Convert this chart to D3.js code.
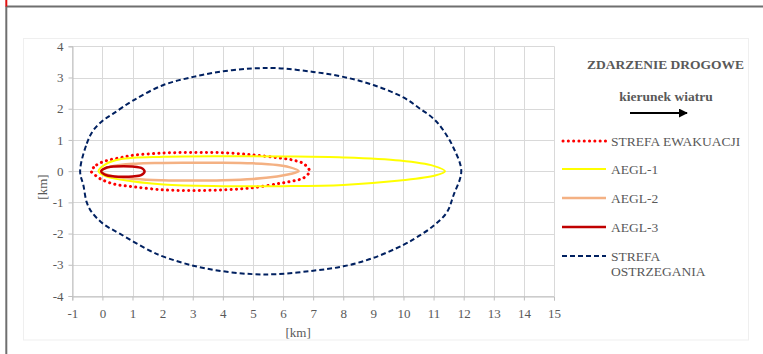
<!DOCTYPE html>
<html>
<head>
<meta charset="utf-8">
<script src="https://cdn.jsdelivr.net/npm/d3@7"></script>
<style>
  html, body { margin: 0; padding: 0; background: #ffffff; }
  svg { display: block; }
  text { font-family: "Liberation Serif", "Times New Roman", serif; fill: #595959; }
</style>
</head>
<body>
<svg id="chart" width="763" height="354"></svg>
<script>
// Axis ticks
const xTicks = [-1, 0, 1, 2, 3, 4, 5, 6, 7, 8, 9, 10, 11, 12, 13, 14, 15];
const yTicks = [-4, -3, -2, -1, 0, 1, 2, 3, 4];

// Zone contours (closed outlines, km east / km north of the incident)
const evacX = [-0.37, -0.19, 0.15, 0.59, 1.03, 2.03, 3.02, 4.02, 5.0, 5.9, 6.35, 6.68, 6.88,
               6.68, 6.4, 5.9, 5.0, 4.02, 3.02, 2.03, 1.03, 0.37, -0.08, -0.25];
const evacY = [0, 0.2, 0.34, 0.43, 0.51, 0.58, 0.6, 0.59, 0.52, 0.42, 0.35, 0.24, 0,
               -0.22, -0.3, -0.39, -0.53, -0.6, -0.62, -0.6, -0.5, -0.41, -0.24, -0.12];

const aegl1X = [-0.13, 0.1, 0.59, 2.03, 4.02, 6.0, 8.0, 9.88, 11.0, 11.38,
                11.05, 9.88, 8.0, 6.0, 4.02, 2.03, 0.59, 0.1];
const aegl1Y = [0, 0.22, 0.38, 0.46, 0.48, 0.47, 0.44, 0.34, 0.17, 0,
                -0.14, -0.3, -0.44, -0.48, -0.48, -0.43, -0.27, -0.16];

const aegl2X = [-0.05, 0.3, 1.1, 2.0, 3.0, 4.0, 5.0, 5.8, 6.2, 6.52,
                6.2, 5.8, 5.0, 4.0, 3.0, 2.0, 1.1, 0.3];
const aegl2Y = [0, 0.15, 0.24, 0.26, 0.27, 0.27, 0.25, 0.2, 0.13, 0,
                -0.1, -0.17, -0.25, -0.29, -0.3, -0.29, -0.25, -0.15];

const aegl3X = [-0.04, 0.1, 0.4, 0.7, 1.0, 1.3, 1.4, 1.3, 1.0, 0.7, 0.4, 0.1];
const aegl3Y = [0, 0.1, 0.15, 0.16, 0.15, 0.1, -0.01, -0.12, -0.17, -0.18, -0.17, -0.12];

const warnX = [-0.74, -0.52, -0.30, 0.03, 0.37, 1.03, 2.03, 3.02, 4.02, 5.0, 5.8, 7.0, 8.0, 9.0,
               10.0, 10.55, 11.0, 11.33, 11.66, 11.92,
               11.66, 11.44, 11.0, 10.44, 10.0, 9.0, 8.0, 7.0, 5.8, 5.0, 4.02, 3.02, 2.03, 1.58,
               0.59, 0.03, -0.35, -0.52, -0.63];
const warnY = [0, 0.88, 1.31, 1.63, 1.85, 2.27, 2.76, 3.02, 3.2, 3.29, 3.30, 3.18, 3.02, 2.76,
               2.36, 2.0, 1.68, 1.3, 0.75, 0,
               -0.78, -1.32, -1.75, -2.12, -2.36, -2.78, -3.05, -3.19, -3.30, -3.30, -3.21, -3.03, -2.74, -2.55,
               -2.01, -1.69, -1.32, -1.0, -0.46];

const series = [
  { name: "STREFA EWAKUACJI", xs: evacX, ys: evacY, color: "#ff0000", width: 3, dash: "0.1 5.2", cap: "round" },
  { name: "AEGL-1", xs: aegl1X, ys: aegl1Y, color: "#ffff00", width: 2, dash: null, cap: "butt" },
  { name: "AEGL-2", xs: aegl2X, ys: aegl2Y, color: "#f4b183", width: 2.5, dash: null, cap: "butt" },
  { name: "AEGL-3", xs: aegl3X, ys: aegl3Y, color: "#c00000", width: 2.5, dash: null, cap: "butt" },
  { name: ["STREFA", "OSTRZEGANIA"], xs: warnX, ys: warnY, color: "#002060", width: 2, dash: "5 3", cap: "butt" }
];

const FONT = '"Liberation Serif", "Times New Roman", serif';
const svg = d3.select("#chart");

// Page frame
svg.append("rect").attr("x", 0).attr("y", 0).attr("width", 763).attr("height", 354).attr("fill", "#ffffff");
svg.append("line").attr("x1", 6).attr("x2", 763).attr("y1", 6.5).attr("y2", 6.5)
  .attr("stroke", "#6f6f6f").attr("stroke-width", 2);
svg.append("line").attr("x1", 6.3).attr("x2", 6.3).attr("y1", 6).attr("y2", 354)
  .attr("stroke", "#6f6f6f").attr("stroke-width", 2);
svg.append("rect").attr("x", 5.3).attr("y", 0).attr("width", 2).attr("height", 6.5).attr("fill", "#e01010");

// Chart area border
svg.append("rect").attr("x", 23.5).attr("y", 38.5).attr("width", 725).attr("height", 301.5)
  .attr("fill", "none").attr("stroke", "#efefef").attr("stroke-width", 1);

const x = d3.scaleLinear().domain([-1, 15]).range([72.3, 554]);
const y = d3.scaleLinear().domain([-4, 4]).range([296, 46.3]);

// Gridlines
const grid = svg.append("g");
grid.selectAll("line.v").data(xTicks).join("line")
  .attr("x1", d => Math.round(x(d)) + 0.5).attr("x2", d => Math.round(x(d)) + 0.5)
  .attr("y1", y(4)).attr("y2", y(-4))
  .attr("stroke", "#d9d9d9").attr("stroke-width", 1);
grid.selectAll("line.h").data(yTicks).join("line")
  .attr("x1", x(-1)).attr("x2", x(15))
  .attr("y1", d => Math.round(y(d)) + 0.5).attr("y2", d => Math.round(y(d)) + 0.5)
  .attr("stroke", "#d9d9d9").attr("stroke-width", 1);

// Axes (plain hyphen for negatives)
const fmt = d => String(d);
const xAxis = d3.axisBottom(x).tickValues(xTicks).tickSize(4).tickPadding(5).tickFormat(fmt);
const yAxis = d3.axisLeft(y).tickValues(yTicks).tickSize(4).tickPadding(5).tickFormat(fmt);

const gx = svg.append("g").attr("transform", `translate(0,${Math.round(y(-4)) + 0.5})`).call(xAxis);
const gy = svg.append("g").attr("transform", `translate(${Math.round(x(-1)) + 0.5},0)`).call(yAxis);
[gx, gy].forEach(g => {
  g.attr("font-family", FONT).attr("font-size", 13);
  g.select(".domain").attr("stroke", "#bfbfbf");
  g.selectAll(".tick line").attr("stroke", "#bfbfbf");
  g.selectAll(".tick text").attr("font-family", FONT).attr("font-size", 13).attr("fill", "#595959");
});
gx.selectAll(".tick text").attr("dy", "0.95em");

// Axis titles
svg.append("text").attr("x", x(6.5)).attr("y", 337).attr("text-anchor", "middle")
  .attr("font-family", FONT).attr("font-size", 13).text("[km]");
svg.append("text").attr("transform", "translate(47,187) rotate(-90)").attr("text-anchor", "middle")
  .attr("font-family", FONT).attr("font-size", 13).text("[km]");

// Zone contours
const line = d3.line().x(d => x(d[0])).y(d => y(d[1])).curve(d3.curveCatmullRomClosed.alpha(0.5));
const plot = svg.append("g");
series.forEach(s => {
  const pts = s.xs.map((v, i) => [v, s.ys[i]]);
  plot.append("path").attr("d", line(pts))
    .attr("fill", "none").attr("stroke", s.color).attr("stroke-width", s.width)
    .attr("stroke-dasharray", s.dash).attr("stroke-linecap", s.cap).attr("stroke-linejoin", "round");
});

// Legend: incident heading and wind direction
svg.append("text").attr("x", 665.5).attr("y", 68.5).attr("text-anchor", "middle")
  .attr("font-family", FONT).attr("font-size", 13.5).attr("font-weight", "bold").text("ZDARZENIE DROGOWE");
svg.append("text").attr("x", 666).attr("y", 101).attr("text-anchor", "middle")
  .attr("font-family", FONT).attr("font-size", 13.5).attr("font-weight", "bold").text("kierunek wiatru");
svg.append("defs").append("marker").attr("id", "arrowHead")
  .attr("viewBox", "0 0 10 10").attr("refX", 9).attr("refY", 5)
  .attr("markerWidth", 4.5).attr("markerHeight", 4.5).attr("markerUnits", "strokeWidth")
  .attr("orient", "auto")
  .append("path").attr("d", "M0,0 L10,5 L0,10 Z").attr("fill", "#000000");
svg.append("line").attr("x1", 630).attr("x2", 687).attr("y1", 113).attr("y2", 113)
  .attr("stroke", "#000000").attr("stroke-width", 2).attr("marker-end", "url(#arrowHead)");

// Legend entries
const legendRows = [141, 169, 198, 227, 256];
const legend = svg.append("g");
series.forEach((s, i) => {
  const yy = legendRows[i];
  legend.append("line").attr("x1", s.cap === "round" ? 563 : 562).attr("x2", 606)
    .attr("y1", yy).attr("y2", yy)
    .attr("stroke", s.color).attr("stroke-width", s.width)
    .attr("stroke-dasharray", s.dash).attr("stroke-linecap", s.cap);
  const names = Array.isArray(s.name) ? s.name : [s.name];
  names.forEach((n, j) => {
    legend.append("text").attr("x", 611).attr("y", yy + 4.5 + j * 15.5)
      .attr("font-family", FONT).attr("font-size", 13.5).text(n);
  });
});
</script>
</body>
</html>
